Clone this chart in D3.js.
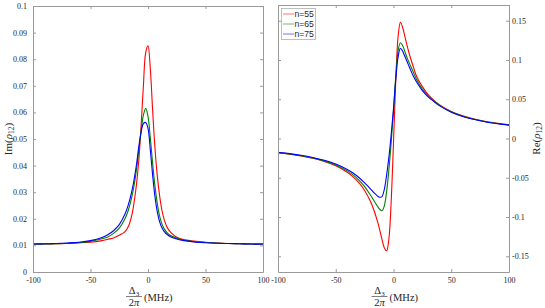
<!DOCTYPE html>
<html>
<head>
<meta charset="utf-8">
<script src="https://cdn.jsdelivr.net/npm/d3@7"></script>
<style>
body { margin:0; background:#fff; }
svg { display:block; }
text { font-family:"Liberation Serif","DejaVu Serif",serif; fill:#262626; }
</style>
</head>
<body>
<svg id="drawing_region"></svg>
<script>
// detuning Delta_3 / 2pi in MHz
const detuning = [-100,-90,-80,-70,-60,-50,-40,-35,-30,-25,-20,-17,-14,-12,-10,-8,-6,-4,-2,0,
                  2,4,6,8,10,12,14,17,20,25,30,35,40,50,60,70,80,90,100];

// Im(rho12)
const im55 = [0.0105,0.0105,0.0106,0.0107,0.0110,0.0112,0.0118,0.0123,0.0128,0.0138,0.0152,0.0172,0.0215,0.0265,0.0330,0.0420,0.0550,0.0700,0.0825,0.0850,
              0.0765,0.0610,0.0470,0.0365,0.0290,0.0235,0.0198,0.0165,0.0148,0.0131,0.0123,0.0119,0.0116,0.0112,0.0109,0.0107,0.0106,0.0105,0.0105];
const im65 = [0.0105,0.0105,0.0106,0.0108,0.0110,0.0115,0.0125,0.0132,0.0145,0.0165,0.0200,0.0234,0.0283,0.0328,0.0386,0.0456,0.0530,0.0590,0.0615,0.0585,
              0.0505,0.0410,0.0325,0.0260,0.0212,0.0182,0.0163,0.0146,0.0136,0.0127,0.0121,0.0117,0.0114,0.0111,0.0109,0.0107,0.0106,0.0105,0.0105];
const im75 = [0.0105,0.0106,0.0107,0.0109,0.0112,0.0118,0.0130,0.0140,0.0155,0.0178,0.0218,0.0254,0.0305,0.0350,0.0404,0.0472,0.0525,0.0558,0.0562,0.0540,
              0.0460,0.0365,0.0285,0.0228,0.0190,0.0167,0.0153,0.0140,0.0132,0.0124,0.0119,0.0116,0.0113,0.0110,0.0108,0.0107,0.0106,0.0105,0.0105];

// Re(rho12)
const re55 = [-0.0180,-0.0199,-0.0222,-0.0252,-0.0292,-0.0347,-0.0430,-0.0488,-0.0562,-0.0662,-0.0800,-0.0910,-0.1050,-0.1160,-0.1280,-0.1390,-0.1430,-0.1280,-0.0800,-0.0050,
              0.0750,0.1300,0.1480,0.1410,0.1290,0.1170,0.1060,0.0920,0.0790,0.0660,0.0558,0.0485,0.0428,0.0345,0.0288,0.0248,0.0217,0.0193,0.0173];
const re65 = [-0.0180,-0.0197,-0.0219,-0.0247,-0.0285,-0.0336,-0.0412,-0.0464,-0.0530,-0.0612,-0.0720,-0.0790,-0.0860,-0.0900,-0.0920,-0.0860,-0.0680,-0.0400,-0.0050,0.0350,
              0.0800,0.1120,0.1220,0.1180,0.1100,0.1020,0.0950,0.0850,0.0750,0.0630,0.0545,0.0477,0.0422,0.0340,0.0284,0.0245,0.0214,0.0191,0.0172];
const re75 = [-0.0176,-0.0193,-0.0214,-0.0242,-0.0278,-0.0325,-0.0395,-0.0440,-0.0497,-0.0565,-0.0640,-0.0690,-0.0730,-0.0748,-0.0740,-0.0650,-0.0470,-0.0240,0.0050,0.0380,
              0.0760,0.1040,0.1150,0.1110,0.1040,0.0970,0.0900,0.0800,0.0720,0.0610,0.0530,0.0470,0.0415,0.0335,0.0280,0.0241,0.0211,0.0189,0.0170];

const seriesNames = ['n=55','n=65','n=75'];
const seriesColors = ['#ff0000','#008000','#0000ff'];

const xTicks = [-100,-50,0,50,100];
const xTickLabels = ['-100','-50','0','50','100'];
const imTicks = [0,0.01,0.02,0.03,0.04,0.05,0.06,0.07,0.08,0.09,0.1];
const imTickLabels = ['0','0.01','0.02','0.03','0.04','0.05','0.06','0.07','0.08','0.09','0.1'];
const reTicks = [-0.15,-0.1,-0.05,0,0.05,0.1,0.15];
const reTickLabels = ['-0.15','-0.1','-0.05','0','0.05','0.1','0.15'];

const W = 545, H = 308;
const svg = d3.select('#drawing_region').attr('width', W).attr('height', H);

const axisColor = '#9a9a9a';

function drawPanel(p) {
    const xscale = d3.scaleLinear().domain([-100, 100]).range([p.left, p.right]);
    const yscale = d3.scaleLinear().domain(p.ydomain).range([p.bottom, p.top]);
    const g = svg.append('g');

    // curves
    const line = d3.line()
        .x((d, i) => xscale(detuning[i]))
        .y(d => yscale(d))
        .curve(d3.curveCatmullRom.alpha(0.5));
    p.series.forEach((s, k) => {
        g.append('path')
            .attr('d', line(s))
            .attr('fill', 'none')
            .attr('stroke', seriesColors[k])
            .attr('stroke-width', 1.1);
    });

    // axes, ticks pointing inward
    const xb = d3.axisBottom(xscale).tickValues(xTicks)
        .tickFormat((d, i) => xTickLabels[i]).tickSizeInner(-3).tickSizeOuter(0).tickPadding(5);
    const xt = d3.axisTop(xscale).tickValues(xTicks).tickFormat('').tickSizeInner(-3).tickSizeOuter(0);
    const yl = d3.axisLeft(yscale).tickValues(p.yticks).tickSizeInner(-3).tickSizeOuter(0).tickPadding(6);
    const yr = d3.axisRight(yscale).tickValues(p.yticks).tickSizeInner(-3).tickSizeOuter(0).tickPadding(3);
    if (p.labelSide === 'left') {
        yl.tickFormat((d, i) => p.ylabels[i]); yr.tickFormat('');
    } else {
        yr.tickFormat((d, i) => p.ylabels[i]); yl.tickFormat('');
    }
    const axes = [
        [xb, `translate(0,${p.bottom})`],
        [xt, `translate(0,${p.top})`],
        [yl, `translate(${p.left},0)`],
        [yr, `translate(${p.right},0)`]
    ];
    axes.forEach(([ax, tr]) => {
        const a = g.append('g').attr('transform', tr).call(ax);
        a.selectAll('path,line').attr('stroke', axisColor);
        a.selectAll('text').attr('font-size', 8).attr('fill', '#262626')
            .style('font-family', '"Liberation Serif",serif');
    });

    // x label: Delta_3 / 2pi (MHz)
    const cx = (p.left + p.right) / 2 - 14;
    const xl = g.append('g').attr('font-size', 10.5);
    const num = xl.append('text').attr('x', cx).attr('y', 294).attr('text-anchor', 'middle');
    num.append('tspan').text('Δ');
    num.append('tspan').attr('font-size', 7).attr('dy', 1.5).text('3');
    xl.append('line').attr('x1', cx - 8).attr('x2', cx + 8)
        .attr('y1', 296.5).attr('y2', 296.5).attr('stroke', '#262626').attr('stroke-width', 0.6);
    xl.append('text').attr('x', cx).attr('y', 306.3).attr('text-anchor', 'middle')
        .append('tspan').text('2').append('tspan').attr('font-style', 'italic').text('π');
    xl.append('text').attr('x', cx + 10).attr('y', 300.5).text('(MHz)');

    // y label
    const ylab = g.append('text')
        .attr('transform', `translate(${p.ylabelX},${(p.top + p.bottom) / 2}) rotate(-90)`)
        .attr('text-anchor', 'middle').attr('font-size', 11);
    ylab.append('tspan').text(p.ylabelText + '(');
    ylab.append('tspan').attr('font-style', 'italic').text('ρ');
    ylab.append('tspan').attr('font-size', 7.5).attr('dy', 2).text('12');
    ylab.append('tspan').attr('dy', -2).text(')');

    return { xscale, yscale };
}

drawPanel({
    left: 33, right: 263, top: 6, bottom: 272,
    ydomain: [0, 0.1], yticks: imTicks, ylabels: imTickLabels, labelSide: 'left',
    series: [im55, im65, im75], ylabelText: 'Im', ylabelX: 12
});

drawPanel({
    left: 278, right: 509, top: 5, bottom: 272,
    ydomain: [-0.17, 0.17], yticks: reTicks, ylabels: reTickLabels, labelSide: 'right',
    series: [re55, re65, re75], ylabelText: 'Re', ylabelX: 540
});

// legend
const legend = svg.append('g');
legend.append('rect').attr('x', 281.5).attr('y', 8.5).attr('width', 34).attr('height', 31)
    .attr('fill', '#fff').attr('stroke', '#b0b0b0').attr('stroke-width', 0.8);
seriesNames.forEach((name, k) => {
    const y = 14 + k * 10;
    legend.append('line').attr('x1', 283).attr('x2', 294).attr('y1', y).attr('y2', y)
        .attr('stroke', seriesColors[k]).attr('stroke-width', 1).attr('stroke-opacity', 0.55);
    legend.append('text').attr('x', 294.5).attr('y', y + 3).attr('font-size', 8.6)
        .style('font-family', '"Liberation Sans",Arial,sans-serif').text(name);
});
</script>
</body>
</html>
